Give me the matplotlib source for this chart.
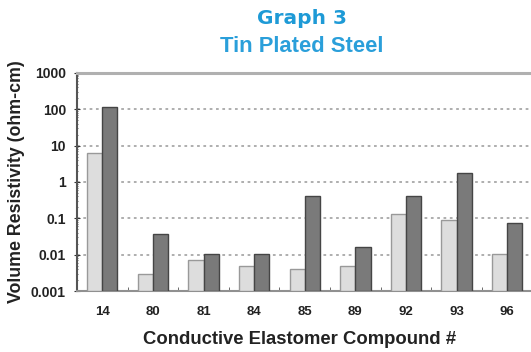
import matplotlib
matplotlib.use("Agg")
import matplotlib.pyplot as plt
import numpy as np
from matplotlib.ticker import LogLocator, FixedLocator, NullFormatter

compounds = ["14", "80", "81", "84", "85", "89", "92", "93", "96"]
series_light = [6.4, 0.002, 0.0063, 0.004, 0.003, 0.004, 0.13, 0.09, 0.0095]
series_dark = [118, 0.036, 0.0098, 0.0095, 0.41, 0.015, 0.40, 1.8, 0.073]
ytick_vals = [0.001, 0.01, 0.1, 1, 10, 100, 1000]
ytick_labels = ["0.001", "0.01", "0.1", "1", "10", "100", "1000"]

plt.rcParams['font.family'] = ['Liberation Sans', 'DejaVu Sans']

fig = plt.figure(figsize=(5.31, 3.52), dpi=100)
ax = fig.add_axes([0.145, 0.173, 0.855, 0.620])

x = np.arange(len(compounds))
w = 0.3
ax.bar(x - w/2, series_light, width=w, bottom=0.001, color="#dddddd",
       edgecolor="#999999", linewidth=1.0, zorder=3)
ax.bar(x + w/2, series_dark, width=w, bottom=0.001, color="#7a7a7a",
       edgecolor="#454545", linewidth=1.0, zorder=3)

ax.set_yscale("log")
ax.set_ylim(0.001, 1000)
ax.set_xlim(-0.5, 8.47)

ax.yaxis.set_major_locator(FixedLocator(ytick_vals))
ax.set_yticklabels(ytick_labels)
ax.yaxis.set_minor_locator(LogLocator(base=10, subs=np.arange(2, 10), numticks=20))
ax.yaxis.set_minor_formatter(NullFormatter())
ax.set_xticks(x)
ax.set_xticklabels(compounds)
ax.set_xticks(x[:-1] + 0.5, minor=True)

for lab in ax.get_xticklabels():
    lab.set_fontweight("bold")
    lab.set_fontsize(9.5)
    lab.set_color("#222222")
for lab in ax.get_yticklabels():
    lab.set_fontweight("bold")
    lab.set_fontsize(10)
    lab.set_color("#222222")

ax.tick_params(axis="x", which="major", length=0, pad=11)
ax.tick_params(axis="x", which="minor", length=3, direction="in", color="#555555")
ax.tick_params(axis="y", which="major", length=4, direction="inout", color="#333333", pad=6)
ax.tick_params(axis="y", which="minor", length=2, direction="inout", color="#555555")

ax.grid(True, axis="y", which="major", linestyle=(0, (1.5, 2.0)), color="#a8a8a8", linewidth=1.3, zorder=0)
ax.set_axisbelow(True)

ax.spines["right"].set_visible(False)
ax.spines["top"].set_color("#b0b0b0")
ax.spines["top"].set_linewidth(2.2)
ax.spines["bottom"].set_color("#909090")
ax.spines["bottom"].set_linewidth(1.5)
ax.spines["left"].set_color("#555555")
ax.spines["left"].set_linewidth(1.5)

ax.set_xlabel("Conductive Elastomer Compound #", fontsize=13.3, fontweight="bold", color="#222222")
ax.set_ylabel("Volume Resistivity (ohm-cm)", fontsize=12.8, fontweight="bold", color="#222222")
ax.xaxis.set_label_coords((300 - 77) / (531 - 77), (291 - 339) / 218, transform=ax.transAxes)
ax.yaxis.set_label_coords((17 - 77) / (531 - 77), 0.5)
ax.xaxis.label.set_va("center")
ax.yaxis.label.set_va("center")

fig.text(302/531, 1 - 18/352, "Graph 3", ha="center", va="center", fontsize=14.5,
         fontweight="bold", family=["DejaVu Sans"], color="#1e9ad6")
fig.text(302/531, 1 - 46/352, "Tin Plated Steel", ha="center", va="center", fontsize=15.8,
         fontweight="bold", color="#2a9fda")

fig.savefig("out.png", dpi=100)
